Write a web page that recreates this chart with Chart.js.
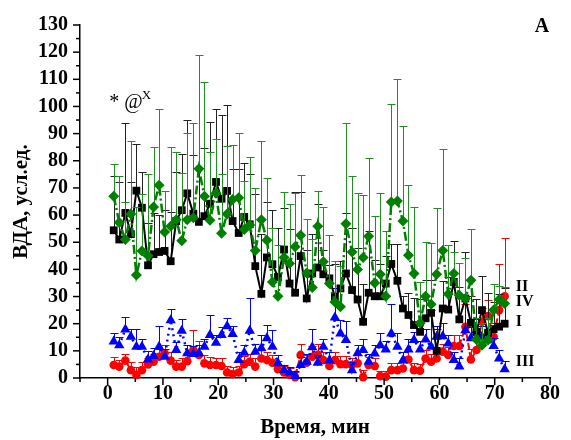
<!DOCTYPE html>
<html>
<head>
<meta charset="utf-8">
<script src="https://cdn.jsdelivr.net/npm/chart.js@4.4.1/dist/chart.umd.min.js"></script>
<style>
  html, body { margin: 0; padding: 0; background: #fff; }
  canvas { display: block; }
</style>
</head>
<body>
<canvas id="chart" width="571" height="440"></canvas>
<script>
// время, мин (отсчеты примерно раз в минуту)
const times = [1.1, 2.1, 3.2, 4.2, 5.2, 6.2, 7.3, 8.3, 9.3, 10.3,
  11.4, 12.4, 13.4, 14.4, 15.5, 16.5, 17.5, 18.5, 19.6, 20.6,
  21.6, 22.6, 23.7, 24.7, 25.7, 26.7, 27.8, 28.8, 29.8, 30.8,
  31.9, 32.9, 33.9, 34.9, 36.0, 37.0, 38.0, 39.0, 40.1, 41.1,
  42.1, 43.1, 44.2, 45.2, 46.2, 47.2, 48.3, 49.3, 50.3, 51.3,
  52.4, 53.4, 54.4, 55.4, 56.5, 57.5, 58.5, 59.5, 60.6, 61.6,
  62.6, 63.6, 64.7, 65.7, 66.7, 67.7, 68.8, 69.8, 70.8, 71.8];

// I - черные квадраты
const seriesI = [54.4, 51, 60.8, 53, 69, 62.7, 41.5, 45.6, 46.4, 46.8,
  43, 57.8, 61.8, 68, 60.5, 57.5, 59.6, 64.2, 72.2, 66,
  68.9, 57.8, 53.4, 59.3, 56.6, 41.2, 31, 44.4, 41.9, 37.2,
  47.3, 34.8, 31.4, 44.9, 29.3, 38.5, 40.7, 38.2, 36.7, 29.9,
  33, 38.5, 32.4, 28.9, 20.7, 31.4, 30.1, 30.1, 34.8, 42,
  35.8, 25.6, 23.2, 19.5, 17, 22, 24, 10, 25.6, 25.2,
  35.4, 21.6, 29.3, 20.3, 17, 25, 16.7, 18, 18.9, 20];
const errI = [20, 21, 33, 19, 17, 13, 15.6, 15, 13.6, 15,
  18, 18, 20.6, 27, 21.5, 20, 25, 30, 27, 30.7,
  31.5, 19, 23.7, 20, 18.4, 26.7, 22, 20.4, 20, 18,
  15.4, 20, 37, 23.6, 18, 14.7, 23.5, 9, 5, 12,
  10, 22.3, 23, 19, 14, 22.6, 13.3, 12, 10, 7.5,
  13.5, 4.5, 8, 10, 12, 14, 12, 8, 10, 12,
  15, 12, 17, 10, 12, 12.5, 14.7, 10, 12, 13];

// II - красные круги
const seriesII = [4.8, 4.2, 6.4, 2.9, 1.1, 2.9, 5, 6, 7.8, 9.1,
  6.4, 4.2, 4.2, 6.2, 10.3, 8.5, 5.4, 4.8, 4.8, 4.4,
  2, 1.5, 2, 5.1, 6, 4.2, 7.2, 6.6, 5.6, 3.2,
  2, 1.1, 0.3, 8.5, 5.6, 7.8, 8.5, 6.6, 4.4, 6.6,
  5.1, 5.1, 4.8, 5.4, 0.3, 4.8, 4.4, 0.7, 0.5, 2.9,
  2.9, 3.5, 6.8, 2.9, 2.7, 7.2, 6, 7.2, 9.7, 8.5,
  11.8, 11.8, 18.9, 6.8, 10.3, 20.7, 22.8, 15.2, 25, 30.1];
const errII = [3, 2.5, 2.6, 3, 3, 3, 2.5, 3, 3, 3,
  3, 2.5, 3, 3, 7.3, 5.2, 3, 3, 2.5, 3,
  2.5, 2.5, 2.5, 3, 3, 3, 3, 3, 3, 3,
  2.5, 2.5, 2, 4.2, 3, 4, 4, 3, 3, 3,
  3, 3, 2.5, 3, 2.5, 3, 3, 2, 2, 2.5,
  2.5, 3, 3, 2.5, 2.5, 3, 3, 3, 3, 3,
  4, 4, 8.3, 4, 4, 5, 6, 5, 17, 21.6];

// III - синие треугольники
const seriesIII = [13.4, 12.1, 17.9, 15.2, 11.5, 11.5, 6.8, 8.1, 11.5, 7.8,
  21.3, 10.3, 17.4, 9.1, 8.8, 9.1, 11.5, 15.8, 13, 15.8,
  19.1, 16.2, 6.6, 9.3, 17.4, 9.7, 11, 14.6, 11.5, 5.4,
  2.9, 2, 0.7, 4.8, 6, 11.3, 5.6, 11.5, 6.4, 22.3,
  16.4, 14, 2.9, 9.1, 10.3, 6, 9, 12.1, 10.5, 16.4,
  11.5, 6.4, 10.5, 14, 10.5, 14.2, 11.5, 15.2, 15.4, 12.7,
  6.6, 4.2, 17.6, 14.6, 17.6, 15.2, 14.2, 11.8, 7.2, 3.2];
const errIII = [3, 3, 4.4, 3, 6.4, 3, 3, 3, 7.6, 3,
  4, 3, 4.5, 3, 3, 3, 3, 7.4, 3, 3,
  3, 3, 3, 3, 12, 3, 5, 5, 6, 3,
  2, 2, 2, 3, 3, 6.6, 3, 3, 3, 11,
  5, 7, 3, 3, 4, 3, 3, 4.3, 3, 11,
  5, 3, 4, 3, 3, 4, 13.5, 4, 5, 3,
  3, 3, 12.5, 4, 4, 4, 3, 3, 3, 3];

// IV - зеленые ромбы
const seriesIV = [66.9, 57.3, 51, 60.4, 37.9, 46.8, 45, 63, 71, 53.8,
  55.9, 58.3, 50.5, 58.3, 59, 77.1, 66.9, 58.1, 68, 53.3,
  60.4, 65.7, 66.4, 54.7, 56.3, 47, 58.3, 50.7, 35.4, 30.1,
  44.4, 42.2, 48.3, 52.6, 38.7, 33.3, 55.9, 42.8, 34.8, 28,
  26.2, 56.8, 46.4, 40, 44.4, 52.2, 35, 38.2, 30.1, 64.8,
  65.2, 57.8, 45.2, 38.5, 20.3, 30.1, 27.2, 38.2, 47, 30.9,
  38.5, 30.5, 29.3, 36, 14.2, 12.1, 14, 25, 28.9, 27.4];
const errIV = [12, 17, 14, 27, 25, 21, 30, 22, 28, 15,
  29, 25, 25, 32, 35, 42, 42, 25, 20, 22,
  25, 20, 24, 18, 25, 23, 29, 23, 20, 19,
  24, 22, 20, 22, 20, 18, 13, 20, 18, 15,
  15, 37, 28, 28, 23, 29, 24.5, 30, 24, 36,
  45, 35, 26, 24.5, 15, 20, 22.5, 24.5, 37.5, 18,
  8, 12, 15, 19, 8, 8, 8, 9.6, 5, 6];

// подписи кривых справа
const curveLabels = ['II', 'IV', 'I', 'III'];
const curveLabelY = [33.5, 28, 20.7, 6];

const FONT = "'Liberation Serif', 'Times New Roman', serif";

const toPoints = (ys) => times.map((t, i) => ({ x: t, y: ys[i] }));

// усы ошибок (только вверх), рисуются перед точками своей серии
const errorBars = {
    id: 'errorBars',
    beforeDatasetDraw(chart, args) {
        const ds = chart.data.datasets[args.index];
        if (!ds.errUp) return;
        const { ctx } = chart;
        const xs = chart.scales.x, ys = chart.scales.y;
        ctx.save();
        ctx.strokeStyle = ds.errColor;
        ctx.lineWidth = 1;
        ds.data.forEach((p, i) => {
            const px = Math.round(xs.getPixelForValue(p.x)) + 0.5;
            const y0 = ys.getPixelForValue(p.y);
            const y1 = Math.round(ys.getPixelForValue(p.y + ds.errUp[i])) + 0.5;
            ctx.beginPath();
            ctx.moveTo(px, y0);
            ctx.lineTo(px, y1);
            ctx.moveTo(px - 4, y1);
            ctx.lineTo(px + 4, y1);
            ctx.stroke();
        });
        ctx.restore();
    }
};

// малые/большие засечки, подписи кривых, "A", "* @x"
const decorations = {
    id: 'decorations',
    afterDraw(chart) {
        const { ctx, chartArea } = chart;
        const xs = chart.scales.x, ys = chart.scales.y;
        ctx.save();
        ctx.strokeStyle = '#000';
        ctx.lineWidth = 1.5;
        xs.ticks.forEach(t => {
            const px = xs.getPixelForValue(t.value);
            const len = t.value % 10 === 0 ? 7 : 4;
            ctx.beginPath();
            ctx.moveTo(px, chartArea.bottom);
            ctx.lineTo(px, chartArea.bottom + len);
            ctx.stroke();
        });
        ys.ticks.forEach(t => {
            const py = ys.getPixelForValue(t.value);
            const len = t.value % 10 === 0 ? 7 : 4;
            ctx.beginPath();
            ctx.moveTo(chartArea.left, py);
            ctx.lineTo(chartArea.left - len, py);
            ctx.stroke();
        });

        ctx.fillStyle = '#000';
        ctx.textBaseline = 'middle';
        ctx.textAlign = 'left';
        ctx.font = 'bold 16px ' + FONT;
        curveLabels.forEach((lab, i) => {
            ctx.fillText(lab, xs.getPixelForValue(73.8), ys.getPixelForValue(curveLabelY[i]));
        });

        ctx.font = 'bold 20px ' + FONT;
        ctx.textAlign = 'center';
        ctx.fillText('A', chartArea.right - 8, 27);

        ctx.textBaseline = 'alphabetic';
        ctx.textAlign = 'left';
        ctx.font = '20px ' + FONT;
        const ax = xs.getPixelForValue(0.3);
        const ay = ys.getPixelForValue(99.5);
        ctx.fillText('* @', ax, ay);
        const w = ctx.measureText('* @').width;
        ctx.font = '13px ' + FONT;
        ctx.fillText('X', ax + w - 1, ay - 9);
        ctx.restore();
    }
};

const ctx = document.getElementById('chart');

new Chart(ctx, {
    type: 'line',
    data: {
        datasets: [
            {
                label: 'IV', data: toPoints(seriesIV), errUp: errIV, errColor: '#1f8f1f',
                borderColor: '#007f00', backgroundColor: '#007f00', borderWidth: 2.5,
                borderDash: [9, 3, 2, 3], pointStyle: 'rectRot', pointRadius: 5.5,
                pointBorderWidth: 0, clip: false, order: 0
            },
            {
                label: 'I', data: toPoints(seriesI), errUp: errI, errColor: '#222',
                borderColor: '#000', backgroundColor: '#000', borderWidth: 2,
                pointStyle: 'rect', pointRadius: 5.5, pointBorderWidth: 0,
                clip: false, order: 1
            },
            {
                label: 'III', data: toPoints(seriesIII), errUp: errIII, errColor: '#0000ff',
                borderColor: '#0000ff', backgroundColor: '#0000ff', borderWidth: 2.5,
                borderDash: [2, 4], pointStyle: 'triangle', pointRadius: 6,
                pointBorderWidth: 0, clip: false, order: 2
            },
            {
                label: 'II', data: toPoints(seriesII), errUp: errII, errColor: '#ff0000',
                borderColor: '#ff0000', backgroundColor: '#ff0000', borderWidth: 2,
                borderDash: [6, 3], pointStyle: 'circle', pointRadius: 4.3,
                pointBorderWidth: 0, clip: false, order: 3
            }
        ]
    },
    options: {
        responsive: false,
        animation: false,
        devicePixelRatio: 1,
        layout: { padding: { left: 0, right: 21, top: 25, bottom: 0 } },
        plugins: {
            legend: { display: false },
            tooltip: { enabled: false }
        },
        elements: { line: { tension: 0 } },
        scales: {
            x: {
                type: 'linear',
                min: -5, max: 80,
                afterFit: (s) => { s.height = 62; },
                border: { display: true, color: '#000', width: 1.5 },
                grid: { drawOnChartArea: false, drawTicks: true, tickLength: 7, tickColor: 'rgba(0,0,0,0)' },
                ticks: {
                    stepSize: 5, autoSkip: false, maxRotation: 0, padding: -3,
                    color: '#000', font: { family: FONT, size: 20, weight: 'bold' },
                    callback: (v) => (v >= 0 && v % 10 === 0) ? v : ''
                },
                title: {
                    display: true, text: 'Время, мин', color: '#000',
                    font: { family: FONT, size: 21, weight: 'bold' },
                    padding: { top: 0, bottom: 0 }
                }
            },
            y: {
                min: 0, max: 130,
                afterFit: (s) => { s.width = 80; },
                border: { display: true, color: '#000', width: 1.5 },
                grid: { drawOnChartArea: false, drawTicks: true, tickLength: 7, tickColor: 'rgba(0,0,0,0)' },
                ticks: {
                    stepSize: 5, autoSkip: false, padding: 5,
                    color: '#000', font: { family: FONT, size: 20, weight: 'bold' },
                    callback: (v) => v % 10 === 0 ? v : ''
                },
                title: {
                    display: true, text: 'ВДА, усл.ед.', color: '#000',
                    font: { family: FONT, size: 21, weight: 'bold' },
                    padding: { top: 9, bottom: 0 }
                }
            }
        }
    },
    plugins: [errorBars, decorations]
});
</script>
</body>
</html>
